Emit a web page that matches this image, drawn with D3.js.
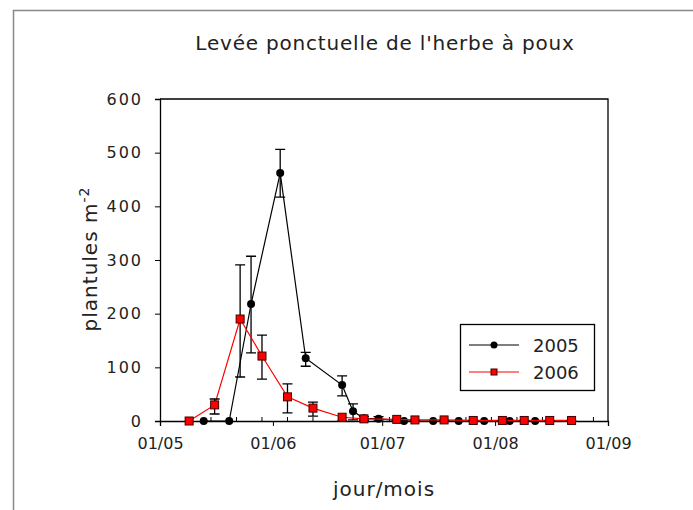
<!DOCTYPE html>
<html>
<head>
<meta charset="utf-8">
<script src="https://cdn.jsdelivr.net/npm/d3@7"></script>
<style>
body { margin: 0; background: #fff; }
text { font-family: "DejaVu Sans", "Liberation Sans", sans-serif; fill: #222; }
</style>
</head>
<body>
<div id="vis_container"></div>
<script>
// Seedling counts per sampling date (jour/mois), two years
var dates2005 = ["05-13","05-20","05-26","06-03","06-10","06-20","06-23","06-26","06-30","07-07","07-15","07-22","07-29","08-05","08-12"];
var values2005 = [0, 0, 218, 462, 117, 67, 18, 5, 4, 0, 0, 0, 0, 0, 0];
var errTop2005 = [0, 0, 307, 506, 128, 84, 32, 8, 8, 0, 0, 0, 0, 0, 0];
var errBot2005 = [0, 0, 127, 417, 102, 47, 2, 2, 0, 0, 0, 0, 0, 0, 0];

var dates2006 = ["05-09","05-16","05-23","05-29","06-05","06-12","06-20","06-26","07-05","07-10","07-18","07-26","08-03","08-09","08-16","08-22"];
var values2006 = [0, 30, 190, 121, 45, 24, 7, 4, 3, 2, 2, 1, 1, 1, 1, 1];
var errTop2006 = [0, 41, 291, 160, 69, 35, 0, 0, 0, 0, 0, 0, 0, 0, 0, 0];
var errBot2006 = [0, 13, 82, 78, 15, 9, 0, 0, 0, 0, 0, 0, 0, 0, 0, 0];

var yTicks = [0, 100, 200, 300, 400, 500, 600];
var monthTicks = ["05-01","06-01","07-01","08-01","09-01"];

var width = 693;
var height = 510;
var plotLeft = 160, plotRight = 608, plotTop = 99, plotBottom = 421;

var parse = function(s) { return new Date(Date.UTC(2005, +s.slice(0,2) - 1, +s.slice(3,5))); };

function rows(dates, vals, hi, lo) {
	return dates.map(function(d, i) {
		return {date: parse(d), value: vals[i], hi: hi[i], lo: lo[i]};
	});
}
var series = [
	{name: "2005", color: "#000", data: rows(dates2005, values2005, errTop2005, errBot2005)},
	{name: "2006", color: "#ff0000", data: rows(dates2006, values2006, errTop2006, errBot2006)}
];

var x = d3.scaleUtc()
	.domain([parse("05-01"), parse("09-01")])
	.range([plotLeft, plotRight]);

var y = d3.scaleLinear()
	.domain([0, 600])
	.range([plotBottom, plotTop]);

var svg = d3.select("#vis_container")
	.append("svg")
	.attr("width", width)
	.attr("height", height);

// outer frame
svg.append("rect")
	.attr("x", 13.5).attr("y", 10.5)
	.attr("width", 700).attr("height", 520)
	.style("fill", "none")
	.style("stroke", "#888")
	.style("stroke-width", 1.5);

svg.append("text")
	.attr("x", 385).attr("y", 50)
	.style("text-anchor", "middle")
	.style("font-size", "20px")
	.style("letter-spacing", "0.8px")
	.text("Levée ponctuelle de l'herbe à poux");

// plot frame (top and right)
svg.append("path")
	.attr("d", "M" + plotLeft + "," + plotTop + "H" + plotRight + "V" + plotBottom)
	.style("fill", "none")
	.style("stroke", "#000")
	.style("stroke-width", 1.3);

// y axis
var yAxis = svg.append("g")
	.attr("transform", "translate(" + plotLeft + ",0)")
	.call(d3.axisLeft(y).tickValues(yTicks).tickSize(5).tickPadding(12));
yAxis.select(".domain").style("stroke-width", 1.3);
yAxis.selectAll("text").style("font-size", "16px").style("letter-spacing", "2px")
	.style("font-family", "DejaVu Sans, sans-serif").style("fill", "#222");

// x axis: major ticks monthly (outside), minor weekly (inside)
var minor = d3.range(7, 123, 7).map(function(k) { return d3.utcDay.offset(parse("05-01"), k); });
svg.selectAll(".minor").data(minor).enter().append("line")
	.attr("class", "minor")
	.attr("x1", function(d) { return x(d); })
	.attr("x2", function(d) { return x(d); })
	.attr("y1", plotBottom).attr("y2", plotBottom - 4)
	.style("stroke", "#000");

var xAxis = svg.append("g")
	.attr("transform", "translate(0," + plotBottom + ")")
	.call(d3.axisBottom(x).tickValues(monthTicks.map(parse)).tickFormat(d3.utcFormat("%d/%m")).tickSize(5).tickPadding(12));
xAxis.select(".domain").style("stroke-width", 1.3);
xAxis.selectAll("text").style("font-size", "16px")
	.style("font-family", "DejaVu Sans, sans-serif").style("fill", "#222");

svg.append("text")
	.attr("x", 384).attr("y", 496)
	.style("text-anchor", "middle")
	.style("font-size", "20px")
	.style("letter-spacing", "1px")
	.text("jour/mois");

var ylab = svg.append("text")
	.attr("transform", "translate(97,259) rotate(-90)")
	.style("text-anchor", "middle")
	.style("font-size", "20px")
	.style("letter-spacing", "1px");
ylab.append("tspan").text("plantules m");
ylab.append("tspan").attr("dy", -8).style("font-size", "14px").text("-2");

var line = d3.line()
	.x(function(d) { return x(d.date); })
	.y(function(d) { return y(d.value); });

series.forEach(function(s, si) {
	var g = svg.append("g");
	g.append("path")
		.datum(s.data)
		.attr("d", line)
		.style("fill", "none")
		.style("stroke", s.color)
		.style("stroke-width", 1.2);

	var eb = s.data.filter(function(d) { return d.hi > d.value || d.lo < d.value; });
	eb.forEach(function(d) {
		var cx = x(d.date);
		g.append("path")
			.attr("d", "M" + cx + "," + y(d.hi) + "V" + y(d.lo) +
				"M" + (cx - 5) + "," + y(d.hi) + "H" + (cx + 5) +
				"M" + (cx - 5) + "," + y(d.lo) + "H" + (cx + 5))
			.style("fill", "none")
			.style("stroke", "#000")
			.style("stroke-width", 1.3);
	});

	if (si == 0) {
		g.selectAll("circle").data(s.data).enter().append("circle")
			.attr("cx", function(d) { return x(d.date); })
			.attr("cy", function(d) { return y(d.value); })
			.attr("r", 4)
			.style("fill", "#000");
	} else {
		g.selectAll("rect").data(s.data).enter().append("rect")
			.attr("x", function(d) { return x(d.date) - 4; })
			.attr("y", function(d) { return y(d.value) - 4; })
			.attr("width", 8).attr("height", 8)
			.style("fill", "#ff0000")
			.style("stroke", "#400")
			.style("stroke-width", 1);
	}
});

// legend
var lg = svg.append("g");
lg.append("rect")
	.attr("x", 460.5).attr("y", 324.5)
	.attr("width", 134).attr("height", 66)
	.style("fill", "#fff")
	.style("stroke", "#000")
	.style("stroke-width", 1.3);
series.forEach(function(s, i) {
	var ly = 345 + i * 27;
	lg.append("line")
		.attr("x1", 469).attr("x2", 519)
		.attr("y1", ly).attr("y2", ly)
		.style("stroke", s.color)
		.style("stroke-width", 1.2);
	if (i == 0) {
		lg.append("circle").attr("cx", 494).attr("cy", ly).attr("r", 3.5).style("fill", "#000");
	} else {
		lg.append("rect").attr("x", 491).attr("y", ly - 3).attr("width", 6).attr("height", 6)
			.style("fill", "#ff0000").style("stroke", "#400");
	}
	lg.append("text")
		.attr("x", 533).attr("y", ly + 7)
		.style("font-size", "18px")
		.text(s.name);
});
</script>
</body>
</html>
